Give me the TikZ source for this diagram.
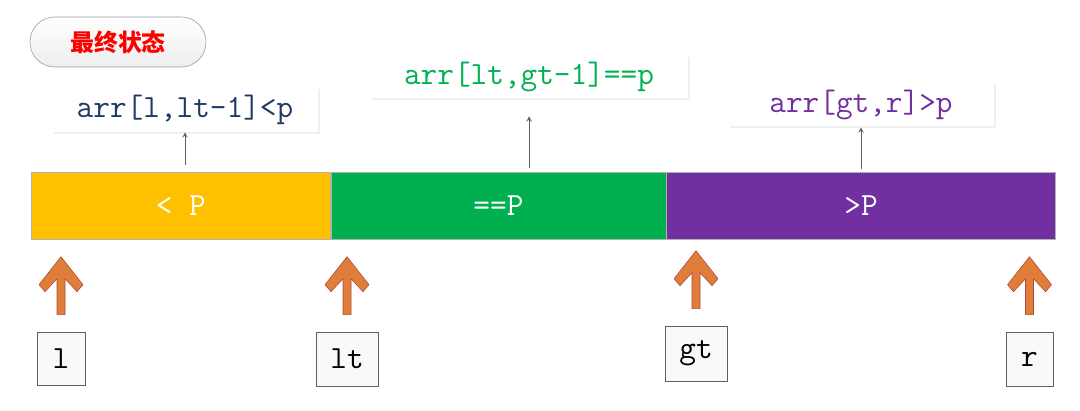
\documentclass[tikz,border=0pt]{standalone}
\usepackage{fontspec}
\newfontfamily\cjk{Noto Sans CJK SC}
\usetikzlibrary{positioning,shadows}

\definecolor{barYellow}{HTML}{FFC000}
\definecolor{barGreen}{HTML}{00B050}
\definecolor{barPurple}{HTML}{7030A0}
\definecolor{textNavy}{HTML}{1F3864}
\definecolor{ptrOrange}{RGB}{222,126,58}
\definecolor{ptrEdge}{RGB}{178,72,52}

\tikzset{
  codetext/.style={font=\fontsize{23}{25}\selectfont\ttfamily},
  lblbox/.style={codetext, fill=white, inner sep=0pt,
    drop shadow={shadow xshift=1.2pt, shadow yshift=-1.2pt, opacity=.12}},
  seg/.style={codetext, text=white, inner sep=0pt, minimum height=1.675cm,
    draw=gray!60, anchor=west},
  idx/.style={codetext, fill=gray!5, draw=gray!75!black, inner sep=0pt,
    drop shadow={shadow xshift=1pt, shadow yshift=-1pt, opacity=.12}},
  pill/.style={rounded corners=0.62cm, minimum width=4.4cm, minimum height=1.25cm,
    top color=white, bottom color=gray!14, draw=gray!80, text=red,
    font=\fontsize{17}{20}\selectfont\cjk\bfseries},
  guide/.style={->, >=stealth, gray!75!black, line width=0.7pt},
  pointer/.pic={
    \filldraw[fill=ptrOrange, draw=ptrEdge, line join=round]
      (-4,0) -- (-4,-36) -- (-16,-23) -- (-22,-30) -- (0,-58)
      -- (22,-30) -- (16,-23) -- (4,-36) -- (4,0) -- cycle;
  }
}

\begin{document}
\begin{tikzpicture}[x=0.025cm, y=-0.025cm]
  \useasboundingbox (0,0) rectangle (1080,411);

  \node[pill] (title) at (118,42) {最终状态};

  % the three parts of the array
  \node[seg, fill=barYellow, minimum width=7.475cm, anchor=north west] (seg1) at (31,172) {< P};
  \node[seg, fill=barGreen, minimum width=8.375cm, right=0pt of seg1] (seg2) {==P};
  \node[seg, fill=barPurple, minimum width=9.725cm, right=0pt of seg2] (seg3) {>P};

  \node[lblbox, text=textNavy, minimum width=6.65cm, minimum height=1.125cm] (lbl1) at (185,109.5) {arr[l,lt-1]<p};
  \node[lblbox, text=barGreen, minimum width=7.95cm, minimum height=1.075cm] (lbl2) at (529,76.5) {arr[lt,gt-1]==p};
  \node[lblbox, text=barPurple, minimum width=6.65cm, minimum height=1.075cm] (lbl3) at (861,104.5) {arr[gt,r]>p};

  \foreach \i/\s/\e in {1/7/0,2/4/18,3/3/1}{
    \draw[guide, shorten <=\s*0.71pt, shorten >=\e*0.71pt] (seg\i.north -| lbl\i.south) -- (lbl\i.south);
  }

  % pointers
  \node[idx, minimum width=1.2cm, minimum height=1.325cm] (idx-l) at (61,358.5) {l};
  \node[idx, minimum width=1.55cm, minimum height=1.35cm] (idx-lt) at (347,359) {lt};
  \node[idx, minimum width=1.55cm, minimum height=1.375cm] (idx-gt) at (696,353.5) {gt};
  \node[idx, minimum width=1.175cm, minimum height=1.35cm] (idx-r) at (1029.5,359) {r};

  \foreach \n in {l,lt,gt,r}{
    \path (idx-\n.north) ++(0,-17) pic {pointer};
  }
\end{tikzpicture}
\end{document}
